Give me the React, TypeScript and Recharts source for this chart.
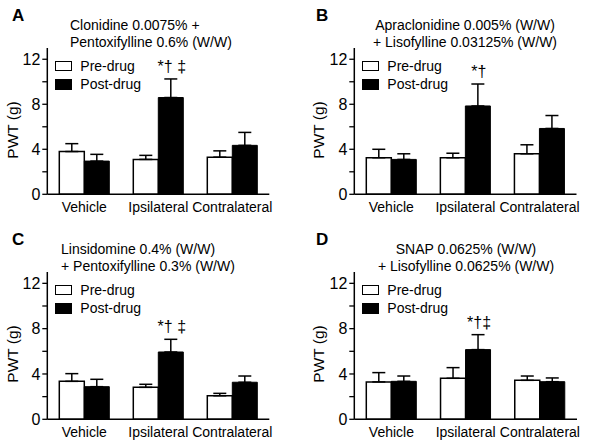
import React from "react";
import { BarChart, Bar, XAxis, YAxis, ErrorBar, LabelList, Legend } from "recharts";

const FONT = "'Liberation Sans', Arial, Helvetica, sans-serif";

const categories = ["Vehicle", "Ipsilateral", "Contralateral"];
const yTicks = [0, 2, 4, 6, 8, 10, 12];
const seriesNames = ["Pre-drug", "Post-drug"];
const seriesFills = ["#fff", "#000"];

// Panel A
const preA = [3.8, 3.1, 3.3];
const preErrA = [0.7, 0.36, 0.56];
const postA = [2.95, 8.6, 4.35];
const postErrA = [0.6, 1.65, 1.15];
const sigA = ["", "*\u2020 \u2021", ""];
const titleA = ["Clonidine 0.0075% +", "Pentoxifylline 0.6% (W/W)"];

// Panel B
const preB = [3.25, 3.25, 3.6];
const preErrB = [0.75, 0.4, 0.8];
const postB = [3.1, 7.85, 5.85];
const postErrB = [0.5, 1.95, 1.15];
const sigB = ["", "*\u2020", ""];
const titleB = ["Apraclonidine 0.005% (W/W)", "+ Lisofylline 0.03125% (W/W)"];

// Panel C
const preC = [3.35, 2.82, 2.08];
const preErrC = [0.68, 0.27, 0.21];
const postC = [2.88, 5.94, 3.27];
const postErrC = [0.65, 1.12, 0.55];
const sigC = ["", "*\u2020 \u2021", ""];
const titleC = ["Linsidomine 0.4% (W/W)", "+ Pentoxifylline 0.3% (W/W)"];

// Panel D
const preD = [3.3, 3.62, 3.44];
const preErrD = [0.82, 0.94, 0.38];
const postD = [3.35, 6.15, 3.32];
const postErrD = [0.47, 1.32, 0.33];
const sigD = ["", "*\u2020\u2021", ""];
const titleD = ["SNAP 0.0625% (W/W)", "+ Lisofylline 0.0625% (W/W)"];

type Row = {
  category: string;
  pre: number;
  preErr: number[];
  post: number;
  postErr: number[];
  sig: string;
};

function buildRows(pre: number[], preErr: number[], post: number[], postErr: number[], sig: string[]): Row[] {
  return categories.map((c, i) => ({
    category: c,
    pre: pre[i],
    preErr: [0, preErr[i]],
    post: post[i],
    postErr: [0, postErr[i]],
    sig: sig[i],
  }));
}

const LegendContent = () => (
  <div style={{ fontFamily: FONT, fontSize: 14, color: "#000" }}>
    {seriesNames.map((name, i) => (
      <div key={name} style={{ display: "flex", alignItems: "center", height: 18.3 }}>
        <div
          style={{
            width: 15,
            height: 8.5,
            border: "1.3px solid #000",
            background: seriesFills[i],
            marginRight: 8,
          }}
        />
        <span style={{ lineHeight: "18px" }}>{name}</span>
      </div>
    ))}
  </div>
);

type PanelProps = {
  left: number;
  top: number;
  rows: Row[];
  letter: string;
  title: string[];
  titleAlign: "left" | "center";
  titleX: number;
  plotLeft: number;
  plotRight: number;
  xAxisHeight: number;
  ylabelX: number;
};

function Panel(p: PanelProps) {
  const rows = p.rows;
  const sigContent = (props: any) => {
    const { x, y, width, height, value } = props;
    if (!value) return null;
    const r = rows.find((d) => d.sig === value);
    if (!r) return null;
    const pxPerUnit = Number(height) / r.post;
    const errTop = Number(y) - r.postErr[1] * pxPerUnit;
    return (
      <text
        x={Number(x) + Number(width) / 2 + 1}
        y={errTop - 7}
        textAnchor="middle"
        fontFamily={FONT}
        fontSize={16}
        fill="#000"
      >
        {value}
      </text>
    );
  };
  const yLabel = () => (
    <text
      x={p.ylabelX}
      y={130}
      transform={`rotate(-90, ${p.ylabelX}, 130)`}
      textAnchor="middle"
      fontFamily={FONT}
      fontSize={15.5}
      fill="#000"
    >
      PWT (g)
    </text>
  );
  return (
    <div style={{ position: "absolute", left: p.left, top: p.top, width: 301, height: 224 }}>
      <BarChart
        width={301}
        height={224}
        data={rows}
        margin={{ top: 48, right: 301 - p.plotRight, bottom: 0, left: p.plotLeft - 47 }}
        barGap={0}
        barSize={25}
      >
        <XAxis
          dataKey="category"
          interval={0}
          height={p.xAxisHeight}
          axisLine={{ stroke: "#000", strokeWidth: 1.5 }}
          tickLine={false}
          tick={{ fill: "#000", fontSize: 14, fontFamily: FONT }}
        />
        <YAxis
          width={47}
          domain={[0, 13]}
          ticks={yTicks}
          allowDataOverflow
          tickFormatter={(v: number) => (v % 4 === 0 ? String(v) : "")}
          tickSize={5}
          tickMargin={2}
          axisLine={{ stroke: "#000", strokeWidth: 1.5 }}
          tickLine={{ stroke: "#000", strokeWidth: 1.3 }}
          tick={{ fill: "#000", fontSize: 16, fontFamily: FONT }}
          label={{ content: yLabel }}
        />
        <Legend
          layout="vertical"
          align="center"
          verticalAlign="middle"
          content={LegendContent}
          wrapperStyle={{ left: p.plotLeft + 8, top: 57, width: 120, height: 40 }}
        />
        <Bar dataKey="pre" name={seriesNames[0]} fill={seriesFills[0]} stroke="#000" strokeWidth={1.5} isAnimationActive={false}>
          <ErrorBar dataKey="preErr" direction="y" width={6.5} stroke="#000" strokeWidth={1.5} />
        </Bar>
        <Bar dataKey="post" name={seriesNames[1]} fill={seriesFills[1]} stroke="#000" strokeWidth={1} isAnimationActive={false}>
          <ErrorBar dataKey="postErr" direction="y" width={6.5} stroke="#000" strokeWidth={1.5} />
          <LabelList dataKey="sig" content={sigContent} />
        </Bar>
      </BarChart>
      <svg
        width={301}
        height={224}
        style={{ position: "absolute", left: 0, top: 0, pointerEvents: "none" }}
      >
        <text x={p.left === 0 ? 12 : 15} y={21} fontFamily={FONT} fontSize={17} fontWeight="bold" fill="#000">
          {p.letter}
        </text>
        {p.title.map((t, i) => (
          <text
            key={i}
            x={p.titleX}
            y={30 + i * 16.5}
            textAnchor={p.titleAlign === "left" ? "start" : "middle"}
            fontFamily={FONT}
            fontSize={14}
            fill="#000"
          >
            {t}
          </text>
        ))}
      </svg>
    </div>
  );
}

const rowsA = buildRows(preA, preErrA, postA, postErrA, sigA);
const rowsB = buildRows(preB, preErrB, postB, postErrB, sigB);
const rowsC = buildRows(preC, preErrC, postC, postErrC, sigC);
const rowsD = buildRows(preD, preErrD, postD, postErrD, sigD);

export default function App() {
  return (
    <div style={{ position: "absolute", left: 0, top: 0, width: 602, height: 448, background: "#fff" }}>
      <Panel left={0} top={0} rows={rowsA} letter="A" title={titleA} titleAlign="left" titleX={70}
        plotLeft={47.3} plotRight={269.3} xAxisHeight={29.7} ylabelX={18} />
      <Panel left={301} top={0} rows={rowsB} letter="B" title={titleB} titleAlign="center" titleX={164}
        plotLeft={53.3} plotRight={275.5} xAxisHeight={29.7} ylabelX={23} />
      <Panel left={0} top={224} rows={rowsC} letter="C" title={titleC} titleAlign="left" titleX={61}
        plotLeft={47.3} plotRight={269.3} xAxisHeight={28.7} ylabelX={18} />
      <Panel left={301} top={224} rows={rowsD} letter="D" title={titleD} titleAlign="center" titleX={165}
        plotLeft={53.3} plotRight={276} xAxisHeight={28.7} ylabelX={23} />
    </div>
  );
}
